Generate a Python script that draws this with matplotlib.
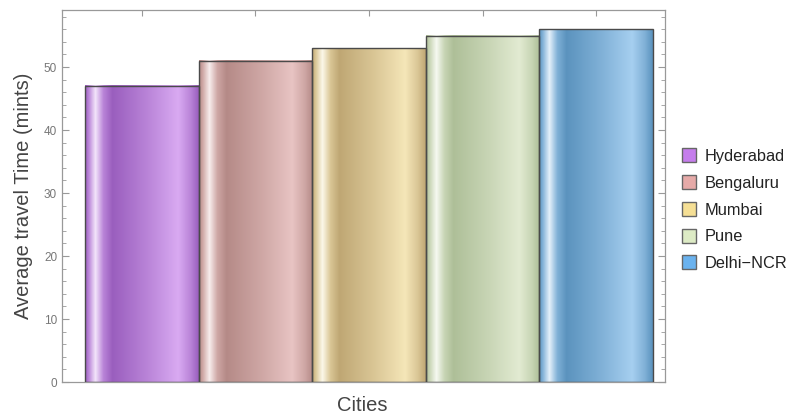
import numpy as np
import matplotlib
matplotlib.use("Agg")
import matplotlib.pyplot as plt
from matplotlib.patches import Rectangle
from matplotlib.colors import to_rgb
from matplotlib.lines import Line2D

cities = ["Hyderabad", "Bengaluru", "Mumbai", "Pune", "Delhi\u2212NCR"]
values = [47, 51, 53, 55, 56]
dark_cols = ["#9A5EBE", "#B58A87", "#BFA774", "#AEBF98", "#5B93BE"]
light_cols = ["#D9AAF2", "#E8C4C3", "#F5E6B8", "#E2EBD2", "#A6CFF0"]
legend_cols = ["#C57DEC", "#E6AAA8", "#F5DF95", "#DDEBC5", "#6AB2EE"]

plt.rcParams['font.family'] = ['Liberation Sans', 'DejaVu Sans']

fig = plt.figure(figsize=(7.91, 4.19), dpi=100)
ax = fig.add_axes([62/791, 1-382/419, (665-62)/791, (382-10)/419])

x = np.arange(len(values))
t = np.linspace(0, 1, 200)
tp = [0, 0.03, 0.09, 0.16, 0.24, 0.55, 0.82, 0.93, 1.0]

for xi, v, dc, lc in zip(x, values, dark_cols, light_cols):
    D = np.array(to_rgb(dc)); L = np.array(to_rgb(lc)); W = np.ones(3)
    M = 0.5 * (D + L)
    hi = 0.3 * L + 0.7 * W
    ctrl = [D, M, hi, M, D, M, L, M, D]
    img = np.zeros((1, len(t), 3))
    for c in range(3):
        img[0, :, c] = np.interp(t, tp, [cc[c] for cc in ctrl])
    ax.imshow(img, extent=[xi - 0.5, xi + 0.5, 0, v], aspect='auto',
              interpolation='bilinear', zorder=2)
    ax.add_patch(Rectangle((xi - 0.5, 0), 1, v, fill=False,
                           edgecolor='#4a4a4a', lw=1.0, zorder=3))

ax.set_xlim(-0.702, 4.606)
ax.set_ylim(0, 59.05)
ax.set_xticks(x)
ax.set_xticklabels([])
ax.set_yticks(np.arange(0, 60, 10))
ax.set_yticks(np.arange(0, 60, 2), minor=True)
ax.tick_params(axis='both', which='both', direction='in', colors='#999999',
               labelcolor='#777777', labelsize=8.5, top=True, right=True)
ax.tick_params(axis='y', which='major', length=5, width=0.8)
ax.tick_params(axis='y', which='minor', length=3, width=0.6)
ax.tick_params(axis='x', which='major', length=4, width=0.8)
for s in ax.spines.values():
    s.set_color('#999999')
    s.set_linewidth(0.9)

ax.set_ylabel("Average travel Time (mints)", fontsize=14.5, color='#444444')
ax.yaxis.set_label_coords((33-62)/(665-62), 0.5)
ax.set_xlabel("Cities", fontsize=14.5, color='#444444')
ax.xaxis.set_label_coords((362-62)/(665-62), -0.038)

handles = [Line2D([], [], marker='s', linestyle='none', markersize=9.5,
                  markerfacecolor=c, markeredgecolor='#666666', markeredgewidth=1)
           for c in legend_cols]
fig.legend(handles, cities, loc='center left', bbox_to_anchor=(673/791, 1-210/419),
           frameon=False, fontsize=11.8, handletextpad=0.45, labelspacing=0.72,
           handlelength=1.1, labelcolor='#222222', borderaxespad=0)

fig.savefig("out.png", dpi=100)
